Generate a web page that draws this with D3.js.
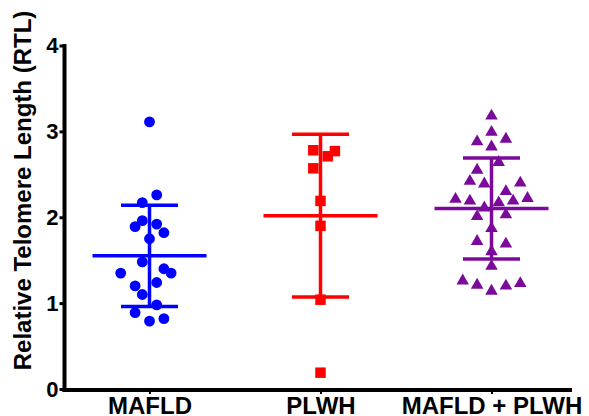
<!DOCTYPE html>
<html>
<head>
<meta charset="utf-8">
<script src="https://cdn.jsdelivr.net/npm/d3@7"></script>
<style>
  body { margin: 0; background: #fff; }
  svg { display: block; }
  text { font-family: "Liberation Sans", Arial, sans-serif; font-weight: bold; }
</style>
</head>
<body>
<div id="chart"></div>
<script>
// groups along the x axis
var groups = ["MAFLD", "PLWH", "MAFLD + PLWH"];
var colors = ["#0000ff", "#ff0000", "#7b0a9b"];

// relative telomere length, one value per subject
var mafld = [3.11, 2.26, 2.17, 1.96, 1.89, 1.92, 1.82, 1.75, 1.48, 1.35,
             1.40, 1.35, 1.24, 1.20, 1.10, 0.98, 0.89, 0.82, 0.79];
// column of each point in the scatter (0 = centre)
var mafldCol = [0, 1, -1, -1, -2, 1, 2, 0, -1, -4,
                2, 3, 1, -2, -1, 1, -2, 2, 0];

var plwh = [2.78, 2.77, 2.71, 2.57, 2.19, 1.90, 1.04, 0.19];
var plwhCol = [-1, 2, 1, -1, 0, 0, 0, 0];

var both = [3.18, 2.99, 2.88, 2.91, 2.82, 2.64, 2.55, 2.42, 2.39, 2.40,
            2.30, 2.21, 2.19, 2.19, 2.22, 2.11, 2.17, 2.01, 2.03, 1.87,
            1.72, 1.69, 1.60, 1.43, 1.26, 1.21, 1.14, 1.20, 1.23];
var bothCol = [0, 0, -2, 2, 0, 1, -2, -3, -1, 4,
               2, -5, -3, 3, 5, -1, 1, -2, 2, 0,
               -2, 2, 0, 0, -4, -2, 0, 2, 4];

var yTicks = [0, 1, 2, 3, 4];

var series = [
  { name: groups[0], values: mafld, cols: mafldCol, shape: d3.symbolCircle, color: colors[0] },
  { name: groups[1], values: plwh, cols: plwhCol, shape: d3.symbolSquare, color: colors[1] },
  { name: groups[2], values: both, cols: bothCol, shape: d3.symbolTriangle, color: colors[2] }
];

var width = 589, height = 416;
var colStep = 7.2;

var svg = d3.select("#chart").append("svg")
  .attr("width", width)
  .attr("height", height);

var x = d3.scalePoint()
  .domain(groups)
  .range([64, 577])
  .padding(0.5);

var y = d3.scaleLinear()
  .domain([0, 4])
  .range([389, 45.5]);

// y axis
var yAxis = svg.append("g")
  .attr("transform", "translate(64.5,0)")
  .call(d3.axisLeft(y).tickValues(yTicks).tickSize(5).tickPadding(1).tickFormat(d3.format("d")));
yAxis.select(".domain").remove();
yAxis.selectAll(".tick line").attr("stroke", "#000").attr("stroke-width", 3);
yAxis.selectAll(".tick text")
  .attr("fill", "#000")
  .style("font-size", "22px");

// x axis
var xAxis = svg.append("g")
  .attr("transform", "translate(0,390)")
  .call(d3.axisBottom(x).tickSize(4).tickPadding(2));
xAxis.select(".domain").remove();
xAxis.selectAll(".tick line").attr("stroke", "#000").attr("stroke-width", 2);
xAxis.selectAll(".tick text")
  .attr("fill", "#000")
  .attr("dy", null)
  .attr("y", 24)
  .style("font-size", "24px");

// axis lines
svg.append("line")
  .attr("x1", 64.5).attr("x2", 64.5)
  .attr("y1", y(4) - 1.5).attr("y2", 392)
  .attr("stroke", "#000").attr("stroke-width", 4);
svg.append("line")
  .attr("x1", 62.5).attr("x2", 572)
  .attr("y1", 390).attr("y2", 390)
  .attr("stroke", "#000").attr("stroke-width", 4);

// y axis title
svg.append("text")
  .attr("transform", "translate(31," + (y(0) / 2 - 4) + ") rotate(-90)")
  .attr("text-anchor", "middle")
  .style("font-size", "24px")
  .text("Relative Telomere Length (RTL)");

// points and mean +/- SD for each group
series.forEach(function(s) {
  var g = svg.append("g");
  var cx = x(s.name);
  var mean = d3.mean(s.values);
  var sd = d3.deviation(s.values);

  var sym = d3.symbol().type(s.shape)
    .size(s.shape === d3.symbolTriangle ? 68 : (s.shape === d3.symbolSquare ? 110 : 92));

  g.selectAll(".pt")
    .data(s.values)
    .enter()
    .append("path")
    .attr("class", "pt")
    .attr("d", sym)
    .attr("transform", function(d, i) {
      return "translate(" + (cx + s.cols[i] * colStep) + "," + y(d) + ")";
    })
    .attr("fill", s.color);

  // vertical SD line
  g.append("line")
    .attr("x1", cx).attr("x2", cx)
    .attr("y1", y(mean + sd)).attr("y2", y(mean - sd))
    .attr("stroke", s.color).attr("stroke-width", 3.5);

  // caps
  [mean + sd, mean - sd].forEach(function(v) {
    g.append("line")
      .attr("x1", cx - 28.5).attr("x2", cx + 28.5)
      .attr("y1", y(v)).attr("y2", y(v))
      .attr("stroke", s.color).attr("stroke-width", 3.5);
  });

  // mean
  g.append("line")
    .attr("x1", cx - 57).attr("x2", cx + 57)
    .attr("y1", y(mean)).attr("y2", y(mean))
    .attr("stroke", s.color).attr("stroke-width", 3.5);
});
</script>
</body>
</html>
